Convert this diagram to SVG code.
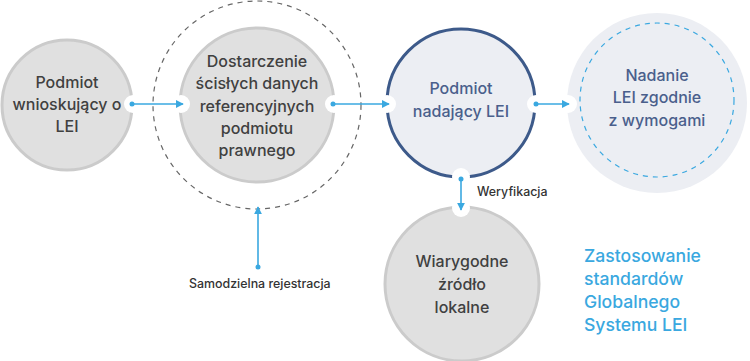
<svg xmlns="http://www.w3.org/2000/svg" width="750" height="361" viewBox="0 0 750 361">
<defs>
<style>
.gray{fill:#e0e0e0;stroke:#cbcbcb;stroke-width:3}
.t{font-family:Inter,"Noto Sans",sans-serif;font-size:16px;font-weight:500;fill:#404040;text-anchor:middle}
.tb{font-family:Inter,"Noto Sans",sans-serif;font-size:16px;font-weight:500;fill:#4a5f8c;text-anchor:middle}
.lbl{font-family:Inter,"Noto Sans",sans-serif;font-size:12.4px;font-weight:500;fill:#333}
.notch{fill:#fff}
.conn{stroke:#3aa8e0;stroke-width:1.6;fill:none}
.dot{fill:#3aa8e0}
</style>
<marker id="ah" viewBox="0 0 10 10" refX="9" refY="5" markerWidth="8" markerHeight="8" markerUnits="userSpaceOnUse" orient="auto">
<path d="M0,0 L10,5 L0,10 z" fill="#3aa8e0"/>
</marker>
</defs>
<rect width="750" height="361" fill="#fff"/>

<g id="node-podmiot-wnioskujacy">
<circle class="gray" cx="67" cy="105" r="65"/>
<text class="t" x="67" y="88">Podmiot</text>
<text class="t" x="67" y="110">wnioskujący o</text>
<text class="t" x="67" y="132">LEI</text>
</g>

<g id="node-dostarczenie">
<circle cx="257" cy="105" r="104" fill="none" stroke="#666" stroke-width="1.2" stroke-dasharray="5 5"/>
<circle class="gray" cx="257" cy="105" r="77"/>
<text class="t" x="257" y="67">Dostarczenie</text>
<text class="t" x="257" y="89">ścisłych danych</text>
<text class="t" x="257" y="112">referencyjnych</text>
<text class="t" x="257" y="134">podmiotu</text>
<text class="t" x="257" y="156">prawnego</text>
</g>

<g id="node-podmiot-nadajacy">
<circle cx="461" cy="103" r="74" fill="#eceef3" stroke="#3d5a8a" stroke-width="3"/>
<text class="tb" x="461" y="94">Podmiot</text>
<text class="tb" x="461" y="117">nadający LEI</text>
</g>

<g id="node-nadanie">
<circle cx="657" cy="103" r="90" fill="#eceef3"/>
<circle cx="657" cy="100" r="77" fill="none" stroke="#3aa8e0" stroke-width="1.2" stroke-dasharray="5 5"/>
<text class="tb" x="657" y="81">Nadanie</text>
<text class="tb" x="657" y="103">LEI zgodnie</text>
<text class="tb" x="657" y="126">z wymogami</text>
</g>

<g id="node-wiarygodne">
<circle class="gray" cx="462" cy="284" r="77"/>
<text class="t" x="462" y="267">Wiarygodne</text>
<text class="t" x="462" y="290">źródło</text>
<text class="t" x="462" y="313">lokalne</text>
</g>

<g id="connectors">
<circle class="notch" cx="133" cy="104" r="9"/>
<circle class="notch" cx="181" cy="104" r="9"/>
<circle class="notch" cx="334" cy="104" r="9"/>
<circle class="notch" cx="387" cy="104" r="9"/>
<circle class="notch" cx="536" cy="104" r="9"/>
<circle class="notch" cx="568" cy="104" r="9"/>
<circle class="notch" cx="461" cy="177" r="9"/>
<circle class="notch" cx="461" cy="208" r="9"/>

<circle class="dot" cx="132" cy="104" r="2.5"/>
<line class="conn" x1="132" y1="104" x2="183" y2="104" marker-end="url(#ah)"/>
<circle class="dot" cx="333" cy="104" r="2.5"/>
<line class="conn" x1="333" y1="104" x2="389" y2="104" marker-end="url(#ah)"/>
<circle class="dot" cx="536" cy="104" r="2.5"/>
<line class="conn" x1="536" y1="104" x2="569" y2="104" marker-end="url(#ah)"/>
<circle class="dot" cx="461" cy="179" r="2.5"/>
<line class="conn" x1="461" y1="179" x2="461" y2="210" marker-end="url(#ah)"/>
<circle class="dot" cx="258" cy="267" r="2.5"/>
<line class="conn" x1="258" y1="267" x2="258" y2="207" marker-end="url(#ah)"/>

<text class="lbl" x="477" y="196">Weryfikacja</text>
<text class="lbl" x="189" y="288">Samodzielna rejestracja</text>
</g>

<g id="caption" font-family="Inter,'Noto Sans',sans-serif" font-size="17.6" fill="#3aa8e0" font-weight="500">
<text x="584" y="262">Zastosowanie</text>
<text x="584" y="285">standardów</text>
<text x="584" y="308">Globalnego</text>
<text x="584" y="331">Systemu LEI</text>
</g>
</svg>
